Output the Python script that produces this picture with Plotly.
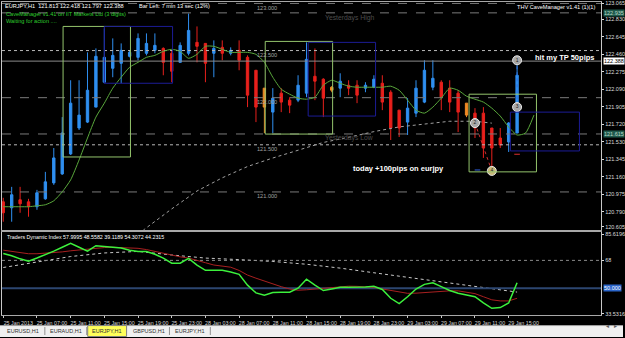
import plotly.graph_objects as go

W, H = 625, 338

# ---------------- data ----------------
open_ = [120.895, 120.832, 120.917, 120.895, 120.843, 120.927, 121.096, 121.191, 121.403, 121.678,
         121.741, 121.900, 122.164, 122.312, 122.365, 122.439, 122.428, 122.471, 122.502, 122.523,
         122.471, 122.375, 122.471, 122.587, 122.576, 122.471, 122.534, 122.471, 122.502, 122.428,
         122.291, 122.101, 121.847, 122.048, 121.974, 121.974, 122.048, 122.227, 122.196, 122.111,
         122.101, 122.132, 122.132, 122.101, 122.111, 122.153, 122.058, 121.868, 121.741, 121.836,
         121.953, 122.111, 122.164, 122.101, 122.048, 121.942, 121.836, 121.836, 121.678, 121.572,
         121.530, 121.625]
high_ = [120.938, 121.054, 121.054, 120.927, 121.022, 121.213, 121.466, 121.794, 122.185, 122.185,
         122.481, 122.523, 122.735, 122.629, 122.576, 122.502, 122.682, 122.682, 122.682, 122.534,
         122.502, 122.587, 122.893, 122.756, 122.576, 122.608, 122.608, 122.534, 122.608, 122.449,
         122.291, 122.101, 122.101, 122.101, 122.005, 122.238, 122.587, 122.523, 122.206, 122.122,
         122.259, 122.185, 122.185, 122.164, 122.238, 122.238, 122.079, 121.868, 121.995, 122.185,
         122.397, 122.397, 122.185, 122.185, 122.079, 121.942, 121.889, 121.900, 121.678, 121.678,
         121.741, 122.397]
low_ = [120.684, 120.684, 120.779, 120.737, 120.811, 120.917, 121.075, 121.181, 121.392, 121.657,
        121.731, 121.900, 122.153, 122.217, 122.153, 122.428, 122.397, 122.449, 122.471, 122.238,
        122.164, 122.375, 122.449, 122.375, 122.164, 122.217, 122.397, 122.449, 122.291, 121.900,
        121.741, 121.625, 121.625, 121.847, 121.836, 121.953, 122.005, 121.974, 121.794, 122.058,
        122.005, 122.027, 121.942, 122.058, 122.101, 121.868, 121.551, 121.583, 121.604, 121.794,
        121.942, 122.079, 121.868, 121.847, 121.635, 121.794, 121.572, 121.361, 121.202, 121.466,
        121.424, 121.625]
close_ = [120.779, 120.970, 120.874, 120.843, 120.991, 121.107, 121.361, 121.625, 121.942, 121.815,
          122.079, 122.439, 122.428, 122.449, 122.502, 122.481, 122.629, 122.576, 122.555, 122.375,
          122.280, 122.555, 122.714, 122.545, 122.365, 122.523, 122.471, 122.502, 122.397, 122.027,
          121.900, 121.900, 121.995, 121.953, 121.921, 122.132, 122.407, 122.175, 121.995, 122.079,
          122.175, 122.101, 122.027, 122.132, 122.196, 121.953, 121.678, 121.678, 121.889, 122.101,
          122.291, 122.206, 122.005, 121.953, 121.847, 121.815, 121.678, 121.466, 121.466, 121.498,
          121.731, 122.238]
bar_index = list(range(len(open_)))
orange_bars = [31, 39, 55]

ma_fast = [120.843, 120.843, 120.843, 120.843, 120.853, 120.864, 120.906, 121.001, 121.128, 121.339,
           121.572, 121.794, 121.942, 122.101, 122.217, 122.323, 122.375, 122.428, 122.449, 122.492,
           122.513, 122.492, 122.418, 122.460, 122.545, 122.545, 122.513, 122.481, 122.481, 122.481,
           122.460, 122.375, 122.217, 122.090, 122.037, 121.995, 121.984, 122.005, 122.132, 122.185,
           122.153, 122.122, 122.111, 122.111, 122.111, 122.111, 122.122, 122.079, 121.974, 121.868,
           121.836, 121.900, 121.995, 122.101, 122.079, 122.016, 121.984, 121.953, 121.889, 121.805,
           121.689, 121.604, 121.625, 121.815]
ma_slow_idx = [16, 17, 20, 23, 26, 29, 32, 35, 38, 41, 44, 47, 50, 53, 56, 58]
ma_slow = [120.55, 120.62, 120.82, 121.01, 121.15, 121.27, 121.36, 121.445, 121.525, 121.58,
           121.64, 121.69, 121.72, 121.75, 121.75, 121.73]

level_prices = [123.000, 122.900, 122.500, 122.388, 122.000, 121.615, 121.500, 121.000]
level_dash = ["dash", "dash", "dot", "solid", "dash", "dash", "dot", "dash"]
level_color = ["#7a7a7a", "#7a7a7a", "#b8b8b8", "#8c8c8c", "#7a7a7a", "#7a7a7a", "#b8b8b8", "#7a7a7a"]
round_labels = ["123.000", "122.500", "122.000", "121.500", "121.000"]
round_prices = [123.000, 122.500, 122.000, 121.500, 121.000]

green_box_x0 = [7.1, 31.1, 55.3]
green_box_x1 = [15.1, 39.1, 63.3]
green_box_top = [122.756, 122.597, 122.037]
green_box_bot = [121.371, 121.614, 121.213]
blue_box_x0 = [12.0, 36.2, 60.2]
blue_box_x1 = [20.1, 44.2, 68.4]
blue_box_top = [122.756, 122.587, 121.847]
blue_box_bot = [122.153, 121.805, 121.435]

trade_x = [61, 61, 56, 58]
trade_y = [122.397, 121.900, 121.731, 121.223]
trade_txt = ["1", "3", "2", "4"]
trade_col = ["#a8a8a8", "#a8a8a8", "#a8a8a8", "#c8b878"]

y_ticks = [123.000, 122.830, 122.645, 122.460, 122.275, 122.090, 121.905, 121.720,
           121.530, 121.345, 121.160, 120.975, 120.790, 120.630]
y_tick_text = ["123.065", "122.830", "122.645", "122.460", "122.275", "122.090", "121.905", "121.720",
               "121.530", "121.345", "121.160", "120.975", "120.790", "120.605"]
axis_marks = [122.900, 122.388, 121.615]
axis_mark_text = ["122.935", "122.388", "121.615"]
axis_mark_bg = ["#1f5a4c", "#ffffff", "#1f5a4c"]
axis_mark_fg = ["#b8d8c8", "#000000", "#b8d8c8"]

# Traders Dynamic Index
tdi_price = [72.5, 71, 69, 67.5, 69.5, 71.5, 74, 76.5, 79, 76.5,
             74, 77.5, 77, 76.5, 76, 74.5, 73.8, 73.8, 72, 69.5,
             66.2, 66.2, 69.3, 65, 61.6, 61.6, 61.6, 60.5, 59, 52,
             47, 45.5, 47.2, 47.4, 47.4, 50, 55.8, 52, 48.5, 49.5,
             50.6, 50.6, 50.6, 50.8, 51.3, 49.2, 43.5, 40, 44.5, 49.5,
             52.5, 53.5, 51, 48.5, 46.8, 45.5, 44.5, 40.5, 37, 37.5,
             40.5, 53.5]
tdi_signal = [74.6, 73.8, 73, 72.3, 72.3, 72.6, 73, 73.5, 74.2, 74.8,
              75.4, 75.9, 76.3, 76.5, 76.4, 76.2, 75.8, 75, 73.8, 72.5,
              71.3, 70.3, 69.5, 68.2, 66.5, 65, 64.3, 63.6, 61.5, 58.5,
              56.5, 54.5, 52.5, 51, 49.5, 48.7, 49, 49.5, 50.2, 50.6,
              51, 51.3, 51.2, 50.9, 50.5, 49.5, 48.6, 47.3, 46.7, 46.8,
              47.2, 47.6, 48, 48.3, 48.3, 47.4, 46.5, 44.5, 42.5, 41.8,
              41.8, 43.5]
tdi_base_idx = [0, 4, 8, 12, 16, 20, 24, 28, 32, 36, 40, 44, 48, 52, 56, 60, 61]
tdi_base = [63.4, 67, 70.5, 72.8, 73.8, 71.5, 69.5, 68.5, 67.3, 65.5, 63, 60, 57, 54, 51, 48, 47.5]
tdi_levels = [68, 50]
tdi_ticks = [85.0, 68, 33.5316]
tdi_tick_text = ["85.6196", "68", "33.5316"]

time_tick_bars = [0, 4, 8, 12, 16, 20, 24, 28, 32, 36, 40, 44, 48, 52, 56, 60]
time_tick_text = ["25 Jan 2013", "25 Jan 07:00", "25 Jan 11:00", "25 Jan 15:00", "25 Jan 19:00",
                  "25 Jan 23:00", "28 Jan 03:00", "28 Jan 07:00", "28 Jan 11:00", "28 Jan 15:00",
                  "28 Jan 19:00", "28 Jan 23:00", "29 Jan 03:00", "29 Jan 07:00", "29 Jan 11:00",
                  "29 Jan 15:00"]

tab_labels = ["EURUSD,H1", "EURAUD,H1", "EURJPY,H1", "GBPUSD,H1", "EURJPY,H1"]
active_tab = 2

# ---------------- styling / layout helpers ----------------
FONT = "Liberation Sans"
BULL, BEAR, ORANGE = "#2f8ff0", "#e8201c", "#f08a24"
X_RANGE = [-0.15, 70.97]

def px(xp):
    return xp / W

def py(yp):
    return 1 - yp / H

fig = go.Figure()

def sub(lst, idx):
    return [lst[i] for i in idx]

normal = [i for i in bar_index if i not in orange_bars]
fig.add_trace(go.Candlestick(
    x=normal, open=sub(open_, normal), high=sub(high_, normal), low=sub(low_, normal),
    close=sub(close_, normal),
    increasing=dict(line=dict(color=BULL, width=1), fillcolor=BULL),
    decreasing=dict(line=dict(color=BEAR, width=1), fillcolor=BEAR),
    whiskerwidth=0, hoverinfo="skip", showlegend=False, xaxis="x", yaxis="y"))
fig.add_trace(go.Candlestick(
    x=orange_bars, open=sub(open_, orange_bars), high=sub(high_, orange_bars),
    low=sub(low_, orange_bars), close=sub(close_, orange_bars),
    increasing=dict(line=dict(color=ORANGE, width=1), fillcolor=ORANGE),
    decreasing=dict(line=dict(color=ORANGE, width=1), fillcolor=ORANGE),
    whiskerwidth=0, hoverinfo="skip", showlegend=False, xaxis="x", yaxis="y"))

for p, d, c in zip(level_prices, level_dash, level_color):
    fig.add_trace(go.Scatter(x=X_RANGE, y=[p, p], mode="lines",
                             line=dict(color=c, width=1, dash=d),
                             hoverinfo="skip", showlegend=False, xaxis="x", yaxis="y"))

fig.add_trace(go.Scatter(x=list(range(len(ma_fast))), y=ma_fast, mode="lines",
                         line=dict(color="#5aa83c", width=1, shape="spline", smoothing=0.6),
                         hoverinfo="skip", showlegend=False, xaxis="x", yaxis="y"))
fig.add_trace(go.Scatter(x=ma_slow_idx, y=ma_slow, mode="lines",
                         line=dict(color="#a0a0a0", width=1, dash="dot"),
                         hoverinfo="skip", showlegend=False, xaxis="x", yaxis="y"))

shapes = []
for x0, x1, t, b in zip(green_box_x0, green_box_x1, green_box_top, green_box_bot):
    shapes.append(dict(type="rect", xref="x", yref="y", x0=x0, x1=x1, y0=b, y1=t,
                       line=dict(color="#94c46c", width=1), fillcolor="rgba(0,0,0,0)"))
for x0, x1, t, b in zip(blue_box_x0, blue_box_x1, blue_box_top, blue_box_bot):
    shapes.append(dict(type="rect", xref="x", yref="y", x0=x0, x1=x1, y0=b, y1=t,
                       line=dict(color="#1c1c96", width=1), fillcolor="rgba(0,0,0,0)"))

fig.add_trace(go.Scatter(x=trade_x[2:4], y=trade_y[2:4], mode="lines",
                         line=dict(color="#d03030", width=1, dash="dot"),
                         hoverinfo="skip", showlegend=False, xaxis="x", yaxis="y"))
fig.add_trace(go.Scatter(x=trade_x[0:2], y=trade_y[0:2], mode="lines",
                         line=dict(color="#3070e0", width=1, dash="dot"),
                         hoverinfo="skip", showlegend=False, xaxis="x", yaxis="y"))
fig.add_trace(go.Scatter(x=trade_x, y=trade_y, mode="markers+text", text=trade_txt,
                         textfont=dict(size=5, color="#202020", family=FONT),
                         textposition="middle center",
                         marker=dict(size=9, color=trade_col, line=dict(color="#e8e8e8", width=1)),
                         hoverinfo="skip", showlegend=False, xaxis="x", yaxis="y"))
fig.add_trace(go.Scatter(x=[61, 56.3], y=[121.40, 121.233], mode="markers",
                         marker=dict(symbol="line-ew", size=4, line=dict(color=["#e03030", "#3060e0"], width=1)),
                         hoverinfo="skip", showlegend=False, xaxis="x", yaxis="y"))

# TDI panel
fig.add_trace(go.Scatter(x=tdi_base_idx, y=tdi_base, mode="lines",
                         line=dict(color="#c8c8c8", width=1, dash="dot"),
                         hoverinfo="skip", showlegend=False, xaxis="x2", yaxis="y2"))
fig.add_trace(go.Scatter(x=X_RANGE, y=[tdi_levels[0]] * 2, mode="lines",
                         line=dict(color="#8a8a8a", width=1, dash="dot"),
                         hoverinfo="skip", showlegend=False, xaxis="x2", yaxis="y2"))
fig.add_trace(go.Scatter(x=X_RANGE, y=[tdi_levels[1]] * 2, mode="lines",
                         line=dict(color="#2c4670", width=2),
                         hoverinfo="skip", showlegend=False, xaxis="x2", yaxis="y2"))
fig.add_trace(go.Scatter(x=bar_index, y=tdi_signal, mode="lines",
                         line=dict(color="#a82020", width=1),
                         hoverinfo="skip", showlegend=False, xaxis="x2", yaxis="y2"))
fig.add_trace(go.Scatter(x=bar_index, y=tdi_price, mode="lines",
                         line=dict(color="#3cf03c", width=1.5),
                         hoverinfo="skip", showlegend=False, xaxis="x2", yaxis="y2"))

ann = []
small = dict(family=FONT, size=5.6, color="#ffffff")
ann.append(dict(xref="paper", yref="paper", x=px(3), y=py(5), xanchor="left", yanchor="middle",
                text="EURJPY,H1  121.813 122.418 121.797 122.388", showarrow=False, font=small))
ann.append(dict(xref="paper", yref="paper", x=px(137), y=py(5), xanchor="left", yanchor="middle",
                text="Bar Left: 7 min 13 sec (12%)", showarrow=False, font=small))
ann.append(dict(xref="paper", yref="paper", x=px(4), y=py(13.5), xanchor="left", yanchor="middle",
                text="CaveManager v1.41 on IIT Markets Ltd (3 digits)", showarrow=False,
                font=dict(family=FONT, size=5.6, color="#2ecc2e")))
ann.append(dict(xref="paper", yref="paper", x=px(4), y=py(20), xanchor="left", yanchor="middle",
                text="Waiting for action ....", showarrow=False,
                font=dict(family=FONT, size=5.6, color="#2ecc2e")))
ann.append(dict(xref="paper", yref="paper", x=px(599), y=py(6), xanchor="right", yanchor="middle",
                text="THV CaveManager v1.41 (1)(1)", showarrow=False, font=small))
for t, p in zip(round_labels, round_prices):
    ann.append(dict(xref="x", yref="y", x=31.3, y=p, yshift=-4.5, xanchor="center", yanchor="middle",
                    text=t, showarrow=False, font=dict(family=FONT, size=5.6, color="#a0a0a0")))
ann.append(dict(xref="x", yref="y", x=41.1, y=level_prices[1], yshift=-5, text="Yesterdays High",
                showarrow=False, font=dict(family=FONT, size=6.8, color="#4c4c4c")))
ann.append(dict(xref="x", yref="y", x=41.1, y=level_prices[5], yshift=-4.5, text="Yesterdays Low",
                showarrow=False, font=dict(family=FONT, size=6.8, color="#4c4c4c")))
ann.append(dict(xref="x", yref="y", x=46.9, y=121.244, text="<b>today +100pips on eurjpy</b>",
                showarrow=False, font=dict(family=FONT, size=7.5, color="#ffffff")))
ann.append(dict(xref="x", yref="y", x=66.6, y=122.428, text="<b>hit my TP 50pips</b>",
                showarrow=False, font=dict(family=FONT, size=7.5, color="#ffffff")))
for p, t, bg, fg in zip(axis_marks, axis_mark_text, axis_mark_bg, axis_mark_fg):
    ann.append(dict(xref="paper", yref="y", x=px(605), y=p, xanchor="left", yanchor="middle",
                    text=t, showarrow=False, bgcolor=bg, borderpad=0,
                    font=dict(family=FONT, size=5.5, color=fg)))
ann.append(dict(xref="paper", yref="y2", x=px(605), y=50, xanchor="left", yanchor="middle",
                text="50.000", showarrow=False, bgcolor="#2a64c8", borderpad=0,
                font=dict(family=FONT, size=5.5, color="#ffffff")))
ann.append(dict(xref="paper", yref="paper", x=px(5), y=py(237), xanchor="left", yanchor="middle",
                text="Traders Dynamic Index 57.9995 48.5582 39.1189 54.3072 44.2315",
                showarrow=False, font=dict(family=FONT, size=5.3, color="#ffffff")))

# tab bar (window chrome)
shapes.append(dict(type="rect", xref="paper", yref="paper", x0=0, x1=1, y0=0, y1=py(326.5),
                   fillcolor="#f0f0f0", line=dict(width=0), layer="below"))
shapes.append(dict(type="line", xref="paper", yref="paper", x0=0, x1=1, y0=py(326.5), y1=py(326.5),
                   line=dict(color="#a0a0a0", width=1)))
tab_left = [2, 45, 88, 128, 170]
tab_right = [45, 87, 127, 170, 211]
for k, (l, r, t) in enumerate(zip(tab_left, tab_right, tab_labels)):
    if k == active_tab:
        shapes.append(dict(type="rect", xref="paper", yref="paper", x0=px(l), x1=px(r),
                           y0=py(337.5), y1=py(326.5), fillcolor="#ffff5a",
                           line=dict(color="#808080", width=1)))
    else:
        shapes.append(dict(type="line", xref="paper", yref="paper", x0=px(r), x1=px(r),
                           y0=py(336), y1=py(328), line=dict(color="#909090", width=1)))
    ann.append(dict(xref="paper", yref="paper", x=px((l + r) / 2), y=py(332), xanchor="center",
                    yanchor="middle", text=t, showarrow=False,
                    font=dict(family=FONT, size=5.5, color="#303030")))
ann.append(dict(xref="paper", yref="paper", x=px(613), y=py(332), text="◂", showarrow=False,
                font=dict(family="DejaVu Sans", size=6, color="#606060")))
ann.append(dict(xref="paper", yref="paper", x=px(621), y=py(332), text="▸", showarrow=False,
                font=dict(family="DejaVu Sans", size=6, color="#606060")))

axis_font = dict(family=FONT, size=5.5, color="#dcdcdc")
fig.update_layout(
    width=W, height=H, margin=dict(l=0, r=0, t=0, b=0),
    paper_bgcolor="#000000", plot_bgcolor="#000000",
    boxgap=0.6, showlegend=False, hovermode=False,
    shapes=shapes, annotations=ann,
    xaxis=dict(domain=[px(2), px(603)], range=X_RANGE, anchor="y", showticklabels=False,
               showgrid=False, zeroline=False, showline=True, mirror=True,
               linecolor="#a8a8a8", linewidth=1, ticks="", rangeslider=dict(visible=False)),
    yaxis=dict(domain=[py(230), py(1.5)], range=[120.600, 123.010], anchor="x", side="right",
               tickvals=y_ticks, ticktext=y_tick_text, tickfont=axis_font, ticks="outside",
               ticklen=2, tickcolor="#dcdcdc", showgrid=False, zeroline=False, showline=True,
               mirror=True, linecolor="#c8c8c8", linewidth=1),
    xaxis2=dict(domain=[px(2), px(603)], range=X_RANGE, anchor="y2", matches="x",
                tickmode="array", tickvals=time_tick_bars, ticktext=time_tick_text,
                tickfont=dict(family=FONT, size=5.3, color="#d8d8d8"),
                ticklabelshift=15, ticklabelstandoff=1, ticks="outside", ticklen=2,
                tickcolor="#c8c8c8", showticklabels=True,
                showgrid=False, zeroline=False, showline=True, mirror=True,
                linecolor="#a8a8a8", linewidth=1),
    yaxis2=dict(domain=[py(316), py(232)], range=[32.6, 86.6], anchor="x2", side="right",
                tickvals=tdi_ticks, ticktext=tdi_tick_text, tickfont=axis_font, ticks="outside",
                ticklen=2, tickcolor="#dcdcdc", showgrid=False, zeroline=False, showline=True,
                mirror=True, linecolor="#c8c8c8", linewidth=1),
)

fig.write_html("out.html")
